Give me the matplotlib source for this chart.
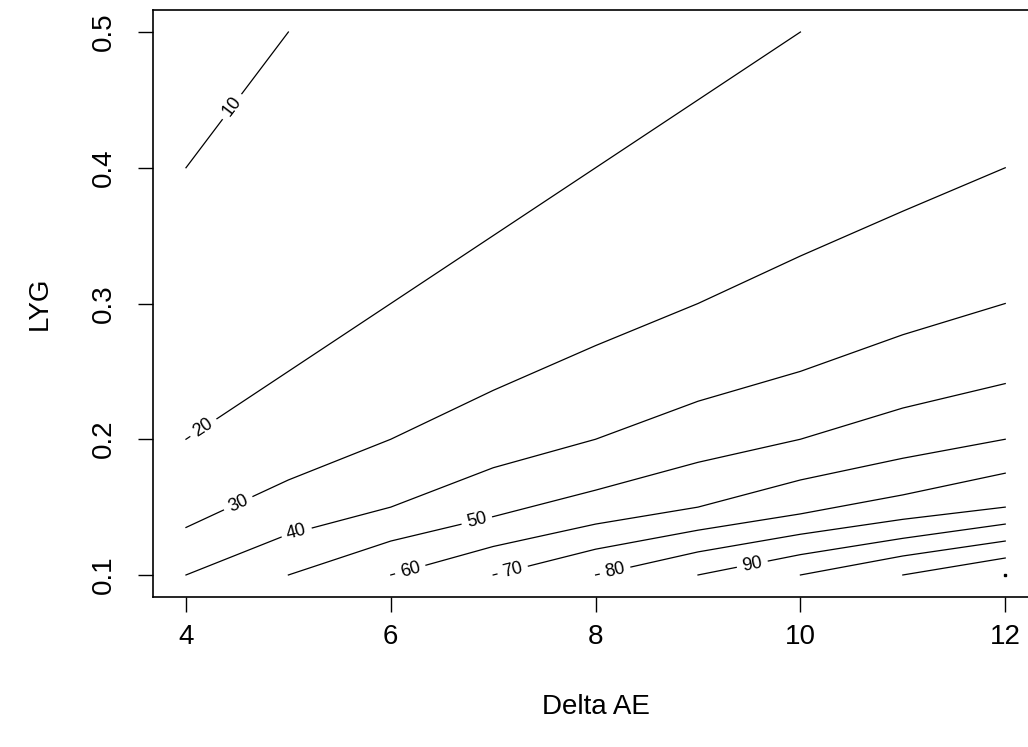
import matplotlib
matplotlib.use('Agg')
import matplotlib.pyplot as plt
import numpy as np

plt.rcParams['font.family'] = ['Liberation Sans', 'DejaVu Sans']

# contour paths (Delta AE, LYG), one pair per level
x10 = [4, 4.5, 5]
y10 = [0.4, 0.45, 0.5]
x20 = [4, 5, 6, 7, 8, 9, 10]
y20 = [0.2, 0.25, 0.3, 0.35, 0.4, 0.45, 0.5]
x30 = [4, 5, 6, 7, 8, 9, 10, 11, 12]
y30 = [0.135, 0.17, 0.2, 0.236, 0.269, 0.3, 0.335, 0.368, 0.4]
x40 = [4, 5, 6, 7, 8, 9, 10, 11, 12]
y40 = [0.1, 0.13, 0.15, 0.179, 0.2, 0.228, 0.25, 0.277, 0.3]
x50 = [5, 6, 7, 8, 9, 10, 11, 12]
y50 = [0.1, 0.125, 0.143, 0.1625, 0.183, 0.2, 0.223, 0.241]
x60 = [6, 7, 8, 9, 10, 11, 12]
y60 = [0.1, 0.121, 0.1375, 0.15, 0.17, 0.186, 0.2]
x70 = [7, 8, 9, 10, 11, 12]
y70 = [0.1, 0.119, 0.133, 0.145, 0.159, 0.175]
x80 = [8, 9, 10, 11, 12]
y80 = [0.1, 0.117, 0.13, 0.141, 0.15]
x90 = [9, 10, 11, 12]
y90 = [0.1, 0.115, 0.127, 0.1375]
x100 = [10, 11, 12]
y100 = [0.1, 0.114, 0.125]
x110 = [11, 12]
y110 = [0.1, 0.1125]
x120 = [12]
y120 = [0.1]

levels = [10, 20, 30, 40, 50, 60, 70, 80, 90, 100, 110, 120]
paths = [(x10, y10), (x20, y20), (x30, y30), (x40, y40), (x50, y50),
         (x60, y60), (x70, y70), (x80, y80), (x90, y90), (x100, y100),
         (x110, y110), (x120, y120)]

# where R put the inline labels (Delta AE position along each line)
label_at = {10: 4.45, 20: 4.17, 30: 4.51, 40: 5.08, 50: 6.84,
            60: 6.19, 70: 7.19, 80: 8.19, 90: 9.53}

xticks = [4, 6, 8, 10, 12]
yticks = [0.1, 0.2, 0.3, 0.4, 0.5]

fig = plt.figure(figsize=(10.28, 7.47), dpi=100)
ax = fig.add_axes([153.2 / 1028, 1 - 596.7 / 747, 884.8 / 1028, 586.4 / 747])
ax.set_xlim(3.68, 12.32)
ax.set_ylim(0.084, 0.516)

for lev, (xs, ys) in zip(levels, paths):
    if len(xs) == 1:
        ax.plot(xs, ys, 's', color='black', markersize=1.6)
    else:
        ax.plot(xs, ys, color='black', linewidth=0.9)

for lev, lx in label_at.items():
    xs, ys = paths[levels.index(lev)]
    ly = np.interp(lx, xs, ys)
    p1 = ax.transData.transform((lx - 0.05, np.interp(lx - 0.05, xs, ys)))
    p2 = ax.transData.transform((lx + 0.05, np.interp(lx + 0.05, xs, ys)))
    ang = np.degrees(np.arctan2(p2[1] - p1[1], p2[0] - p1[0]))
    ax.text(lx, ly, str(lev), fontsize=13, rotation=ang, rotation_mode='anchor',
            ha='center', va='center', zorder=3,
            bbox=dict(facecolor='white', edgecolor='none', pad=4))

ax.set_xticks(xticks)
ax.set_xticklabels([str(t) for t in xticks])
ax.set_yticks(yticks)
ax.set_yticklabels([str(t) for t in yticks], rotation=90, va='center')
ax.tick_params(axis='both', labelsize=20, length=11, width=1.0, color='black')
ax.tick_params(axis='x', pad=9)
ax.tick_params(axis='y', pad=15)
for s in ax.spines.values():
    s.set_linewidth(1.2)

ax.set_xlabel('Delta AE', fontsize=20, va='center')
ax.xaxis.set_label_coords(0.5, -0.188)
ax.set_ylabel('LYG', fontsize=20, va='center')
ax.yaxis.set_label_coords(-0.128, 0.5)

fig.savefig('out.png', dpi=100)
